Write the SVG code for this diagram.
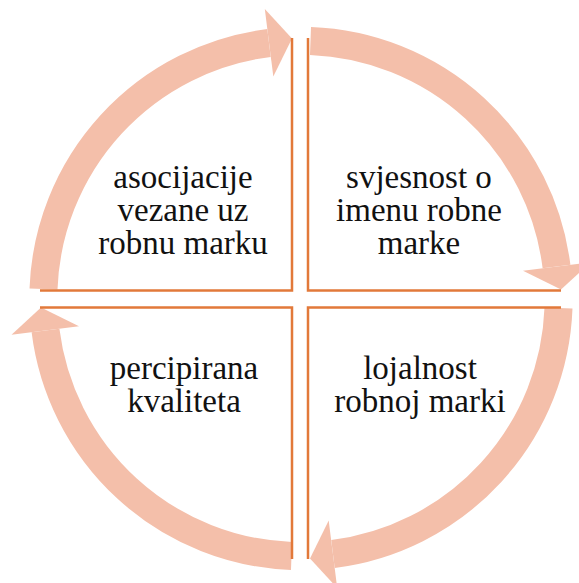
<svg xmlns="http://www.w3.org/2000/svg" width="579" height="583" viewBox="0 0 579 583">
<style>
.band{fill:none;stroke:#F4BFAA;stroke-width:28}
.head{fill:#F4BFAA}
.q{fill:none;stroke:#E2793A;stroke-width:2.5}
.t{font-family:"Liberation Serif","Times New Roman",serif;font-size:33px;fill:#111;text-anchor:middle}
</style>
<defs>
<g id="arrowShape">
<path class="band" d="M 43.5 289 A 257.5 257.5 0 0 1 269 43"/>
<polygon class="head" points="264.8,9 273.3,76.5 292,38.5"/>
</g>
</defs>
<rect width="579" height="583" fill="#fff"/>
<g id="connectors">
<use href="#arrowShape"/>
<use href="#arrowShape" transform="rotate(90 301 298.5)"/>
<use href="#arrowShape" transform="rotate(180 301 298.5)"/>
<use href="#arrowShape" transform="rotate(270 301 298.5)"/>
</g>
<g id="node-asocijacije">
<polyline class="q" points="40,290.5 292,290.5 292,38"/>
<text class="t" x="183" y="188" font-family="Liberation Serif">asocijacije</text>
<text class="t" x="183" y="221" font-family="Liberation Serif">vezane uz</text>
<text class="t" x="183" y="254" font-family="Liberation Serif">robnu marku</text>
</g>
<g id="node-svjesnost">
<polyline class="q" points="308,38 308,290.5 561,290.5"/>
<text class="t" x="419" y="188" font-family="Liberation Serif">svjesnost o</text>
<text class="t" x="419" y="221" font-family="Liberation Serif">imenu robne</text>
<text class="t" x="419" y="254" font-family="Liberation Serif">marke</text>
</g>
<g id="node-percipirana">
<polyline class="q" points="40,307.5 292,307.5 292,559"/>
<text class="t" x="184" y="379" font-family="Liberation Serif">percipirana</text>
<text class="t" x="184" y="412" font-family="Liberation Serif">kvaliteta</text>
</g>
<g id="node-lojalnost">
<polyline class="q" points="561,307.5 308,307.5 308,559"/>
<text class="t" x="420" y="379" font-family="Liberation Serif">lojalnost</text>
<text class="t" x="420" y="412" font-family="Liberation Serif">robnoj marki</text>
</g>
</svg>
